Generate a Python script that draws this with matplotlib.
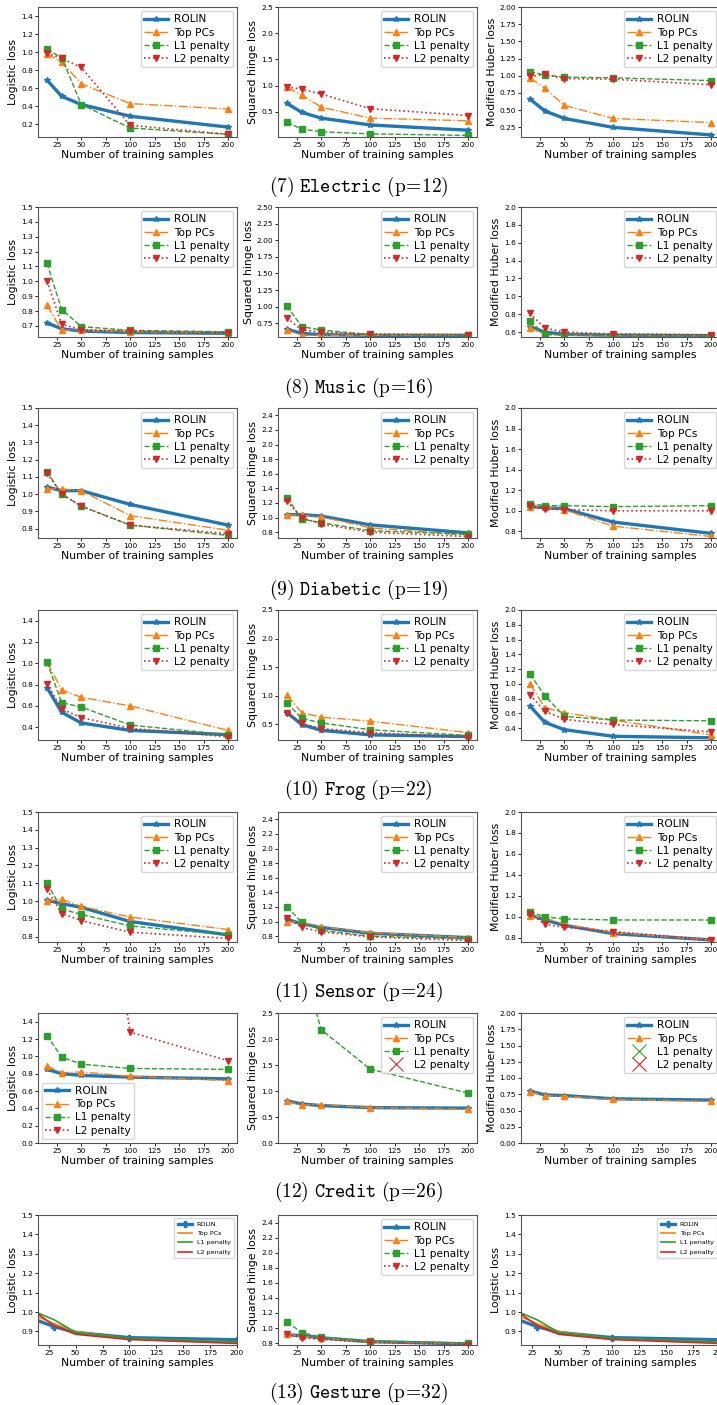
import numpy as np
import matplotlib
matplotlib.use("Agg")
import matplotlib.pyplot as plt

plt.rcParams['mathtext.fontset'] = 'cm'

# ---------------- data ----------------
x_samples = [15, 30, 50, 100, 200]
methods = ["ROLIN", "Top PCs", "L1 penalty", "L2 penalty"]
loss_labels = ["Logistic loss", "Squared hinge loss", "Modified Huber loss"]
xticks = [25, 50, 75, 100, 125, 150, 175, 200]

# Electric (p=12)
electric_logistic = {"ROLIN": [0.69, 0.51, 0.42, 0.29, 0.17],
                     "Top PCs": [0.98, 0.89, 0.65, 0.43, 0.37],
                     "L1 penalty": [1.03, 0.94, 0.42, 0.16, 0.09],
                     "L2 penalty": [0.99, 0.93, 0.83, 0.19, 0.09]}
electric_hinge = {"ROLIN": [0.66, 0.49, 0.38, 0.25, 0.15],
                  "Top PCs": [0.97, 0.82, 0.59, 0.38, 0.33],
                  "L1 penalty": [0.30, 0.17, 0.12, 0.08, 0.05],
                  "L2 penalty": [0.98, 0.93, 0.84, 0.56, 0.43]}
electric_huber = {"ROLIN": [0.66, 0.49, 0.38, 0.25, 0.14],
                  "Top PCs": [0.97, 0.82, 0.57, 0.38, 0.32],
                  "L1 penalty": [1.06, 1.01, 0.98, 0.97, 0.93],
                  "L2 penalty": [0.99, 1.02, 0.96, 0.95, 0.87]}

# Music (p=16)
music_logistic = {"ROLIN": [0.72, 0.68, 0.665, 0.655, 0.65],
                  "Top PCs": [0.84, 0.67, 0.67, 0.66, 0.655],
                  "L1 penalty": [1.12, 0.81, 0.695, 0.67, 0.66],
                  "L2 penalty": [1.00, 0.71, 0.675, 0.665, 0.655]}
music_hinge = {"ROLIN": [0.66, 0.60, 0.58, 0.57, 0.57],
               "Top PCs": [0.65, 0.57, 0.57, 0.57, 0.57],
               "L1 penalty": [1.01, 0.70, 0.65, 0.58, 0.575],
               "L2 penalty": [0.83, 0.65, 0.62, 0.59, 0.58]}
music_huber = {"ROLIN": [0.66, 0.60, 0.575, 0.565, 0.56],
               "Top PCs": [0.65, 0.57, 0.565, 0.56, 0.56],
               "L1 penalty": [0.72, 0.58, 0.565, 0.56, 0.56],
               "L2 penalty": [0.81, 0.645, 0.60, 0.58, 0.57]}

# Diabetic (p=19)
diabetic_logistic = {"ROLIN": [1.04, 1.02, 1.02, 0.94, 0.82],
                     "Top PCs": [1.03, 1.03, 1.02, 0.875, 0.79],
                     "L1 penalty": [1.13, 1.00, 0.93, 0.82, 0.76],
                     "L2 penalty": [1.12, 1.00, 0.93, 0.82, 0.77]}
diabetic_hinge = {"ROLIN": [1.04, 1.04, 1.02, 0.90, 0.79],
                  "Top PCs": [1.04, 1.03, 1.01, 0.86, 0.76],
                  "L1 penalty": [1.27, 0.98, 0.93, 0.82, 0.77],
                  "L2 penalty": [1.22, 1.00, 0.91, 0.80, 0.74]}
diabetic_huber = {"ROLIN": [1.04, 1.03, 1.02, 0.89, 0.78],
                  "Top PCs": [1.04, 1.04, 1.01, 0.85, 0.75],
                  "L1 penalty": [1.07, 1.05, 1.05, 1.04, 1.05],
                  "L2 penalty": [1.05, 1.02, 1.01, 1.00, 1.00]}

# Frog (p=22)
frog_logistic = {"ROLIN": [0.77, 0.54, 0.44, 0.37, 0.33],
                 "Top PCs": [1.01, 0.75, 0.68, 0.60, 0.37],
                 "L1 penalty": [1.01, 0.63, 0.59, 0.42, 0.33],
                 "L2 penalty": [0.81, 0.57, 0.49, 0.39, 0.31]}
frog_hinge = {"ROLIN": [0.70, 0.49, 0.39, 0.31, 0.28],
              "Top PCs": [1.01, 0.70, 0.62, 0.55, 0.35],
              "L1 penalty": [0.87, 0.60, 0.52, 0.40, 0.30],
              "L2 penalty": [0.70, 0.51, 0.42, 0.35, 0.27]}
frog_huber = {"ROLIN": [0.70, 0.48, 0.38, 0.29, 0.27],
              "Top PCs": [1.00, 0.68, 0.61, 0.51, 0.31],
              "L1 penalty": [1.13, 0.84, 0.56, 0.51, 0.50],
              "L2 penalty": [0.85, 0.63, 0.52, 0.45, 0.35]}

# Sensor (p=24)
sensor_logistic = {"ROLIN": [1.005, 0.985, 0.965, 0.885, 0.81],
                   "Top PCs": [1.00, 1.01, 0.97, 0.91, 0.84],
                   "L1 penalty": [1.10, 0.955, 0.925, 0.86, 0.81],
                   "L2 penalty": [1.065, 0.93, 0.89, 0.825, 0.79]}
sensor_hinge = {"ROLIN": [1.03, 0.97, 0.92, 0.84, 0.78],
                "Top PCs": [1.00, 0.99, 0.93, 0.85, 0.78],
                "L1 penalty": [1.20, 0.99, 0.88, 0.80, 0.76],
                "L2 penalty": [1.05, 0.92, 0.86, 0.79, 0.74]}
sensor_huber = {"ROLIN": [1.02, 0.97, 0.92, 0.84, 0.78],
                "Top PCs": [1.01, 0.99, 0.93, 0.85, 0.78],
                "L1 penalty": [1.05, 1.00, 0.98, 0.97, 0.97],
                "L2 penalty": [1.03, 0.93, 0.90, 0.86, 0.78]}

# Credit (p=26)  (nan = not reported)
nan = float("nan")
credit_logistic = {"ROLIN": [0.85, 0.80, 0.78, 0.76, 0.74],
                   "Top PCs": [0.89, 0.81, 0.82, 0.77, 0.72],
                   "L1 penalty": [1.24, 0.99, 0.91, 0.86, 0.85],
                   "L2 penalty": [8.0, 6.5, 4.95, 1.28, 0.95]}
credit_hinge = {"ROLIN": [0.81, 0.75, 0.72, 0.68, 0.67],
                "Top PCs": [0.80, 0.73, 0.74, 0.68, 0.65],
                "L1 penalty": [5.0, 3.46, 2.18, 1.42, 0.96],
                "L2 penalty": [nan, nan, nan, nan, nan]}
credit_huber = {"ROLIN": [0.80, 0.74, 0.73, 0.68, 0.66],
                "Top PCs": [0.79, 0.73, 0.72, 0.67, 0.64],
                "L1 penalty": [nan, nan, nan, nan, nan],
                "L2 penalty": [nan, nan, nan, nan, nan]}

# Gesture (p=32)
gesture_logistic = {"ROLIN": [0.955, 0.925, 0.895, 0.868, 0.857],
                    "Top PCs": [0.975, 0.94, 0.90, 0.862, 0.845],
                    "L1 penalty": [0.995, 0.96, 0.895, 0.865, 0.845],
                    "L2 penalty": [0.99, 0.93, 0.885, 0.858, 0.838]}
gesture_hinge = {"ROLIN": [0.91, 0.90, 0.87, 0.82, 0.79],
                 "Top PCs": [0.92, 0.89, 0.87, 0.82, 0.79],
                 "L1 penalty": [1.08, 0.94, 0.88, 0.83, 0.80],
                 "L2 penalty": [0.92, 0.87, 0.85, 0.81, 0.78]}

captions = [("7", "Electric", "12"), ("8", "Music", "16"), ("9", "Diabetic", "19"),
            ("10", "Frog", "22"), ("11", "Sensor", "24"), ("12", "Credit", "26"),
            ("13", "Gesture", "32")]

# ---------------- layout ----------------
W, H, DPI = 717, 1405, 100
fig = plt.figure(figsize=(W / DPI, H / DPI), dpi=DPI)

col_left = [38, 278, 521]
ax_w = 199
ax_h = 130
row_top = [7, 207, 408, 610, 812, 1013, 1215]
caption_y = [187, 388, 590, 790, 992, 1192, 1393]

def make_ax(r, c):
    l = col_left[c] / W
    b = 1 - (row_top[r] + ax_h) / H
    return fig.add_axes([l, b, ax_w / W, ax_h / H])

styles = {"ROLIN": dict(color="#1f77b4", ls="-", marker="*", lw=2.4, ms=4),
          "Top PCs": dict(color="#ff7f0e", ls="-.", marker="^", lw=1.0, ms=3.8),
          "L1 penalty": dict(color="#2ca02c", ls="--", marker="s", lw=1.0, ms=3.8),
          "L2 penalty": dict(color="#d62728", ls=":", marker="v", lw=1.2, ms=3.8)}

TICK_FS = 5.3
LABEL_FS = 7.8
LEG_FS = 7.6

def panel(ax, data, ylabel, ylim, yticks, legend_loc="upper right",
          missing=(), gesture=False):
    for m in methods:
        st = styles[m]
        if m in missing:
            ax.plot(x_samples, data[m], color=st["color"], ls="none", marker="x",
                    ms=10, mew=0.8, label=m)
        elif gesture and m != "ROLIN":
            ax.plot(x_samples, data[m], color=st["color"], ls="-", lw=1.2, label=m)
        elif gesture:
            ax.plot(x_samples, data[m], color=st["color"], ls="-", lw=2.4,
                    marker="P", ms=4, markevery=[1, 3, 4], label=m)
        else:
            ax.plot(x_samples, data[m], **st, label=m)
    ax.set_ylim(*ylim)
    ax.set_yticks(yticks)
    ax.set_xticks(xticks)
    if gesture:
        ax.set_xlim(15, 200)
    else:
        ax.set_xlim(5.75, 209.25)
    ax.tick_params(labelsize=TICK_FS, length=2.0, width=0.6, pad=1.5)
    ax.set_xlabel("Number of training samples", fontsize=LABEL_FS, labelpad=1.5)
    ax.set_ylabel(ylabel, fontsize=LABEL_FS, labelpad=2)
    for s in ax.spines.values():
        s.set_linewidth(0.8)
        s.set_color("#555555")
    if gesture:
        ax.legend(loc=legend_loc, fontsize=4.6, handlelength=2.2, borderpad=0.5,
                  labelspacing=0.6)
    else:
        ax.legend(loc=legend_loc, fontsize=LEG_FS, handlelength=2.2,
                  borderpad=0.3, labelspacing=0.3, handletextpad=0.6,
                  borderaxespad=0.4)

def fmt_ticks(ax, fmt):
    ax.set_yticklabels([fmt.format(v) for v in ax.get_yticks()])

t_log14 = [0.2, 0.4, 0.6, 0.8, 1.0, 1.2, 1.4]
t_sh05 = [0.5, 1.0, 1.5, 2.0, 2.5]
t_hub025 = [0.25, 0.5, 0.75, 1.0, 1.25, 1.5, 1.75, 2.0]

# Row 7 Electric
ax = make_ax(0, 0); panel(ax, electric_logistic, loss_labels[0], (0.06, 1.5), t_log14)
ax = make_ax(0, 1); panel(ax, electric_hinge, loss_labels[1], (0.02, 2.5), t_sh05)
ax = make_ax(0, 2); panel(ax, electric_huber, loss_labels[2], (0.11, 2.0), t_hub025); fmt_ticks(ax, "{:.2f}")

# Row 8 Music
ax = make_ax(1, 0); panel(ax, music_logistic, loss_labels[0], (0.625, 1.5), [0.7, 0.8, 0.9, 1.0, 1.1, 1.2, 1.3, 1.4, 1.5])
ax = make_ax(1, 1); panel(ax, music_hinge, loss_labels[1], (0.545, 2.5), [0.75, 1.0, 1.25, 1.5, 1.75, 2.0, 2.25, 2.5]); fmt_ticks(ax, "{:.2f}")
ax = make_ax(1, 2); panel(ax, music_huber, loss_labels[2], (0.545, 2.0), [0.6, 0.8, 1.0, 1.2, 1.4, 1.6, 1.8, 2.0])

# Row 9 Diabetic
ax = make_ax(2, 0); panel(ax, diabetic_logistic, loss_labels[0], (0.745, 1.5), [0.8, 0.9, 1.0, 1.1, 1.2, 1.3, 1.4, 1.5])
ax = make_ax(2, 1); panel(ax, diabetic_hinge, loss_labels[1], (0.72, 2.5), [0.8, 1.0, 1.2, 1.4, 1.6, 1.8, 2.0, 2.2, 2.4])
ax = make_ax(2, 2); panel(ax, diabetic_huber, loss_labels[2], (0.735, 2.0), [0.8, 1.0, 1.2, 1.4, 1.6, 1.8, 2.0])

# Row 10 Frog
ax = make_ax(3, 0); panel(ax, frog_logistic, loss_labels[0], (0.28, 1.5), [0.4, 0.6, 0.8, 1.0, 1.2, 1.4])
ax = make_ax(3, 1); panel(ax, frog_hinge, loss_labels[1], (0.22, 2.5), t_sh05)
ax = make_ax(3, 2); panel(ax, frog_huber, loss_labels[2], (0.24, 2.0), [0.4, 0.6, 0.8, 1.0, 1.2, 1.4, 1.6, 1.8, 2.0])

# Row 11 Sensor
ax = make_ax(4, 0); panel(ax, sensor_logistic, loss_labels[0], (0.77, 1.5), [0.8, 0.9, 1.0, 1.1, 1.2, 1.3, 1.4, 1.5])
ax = make_ax(4, 1); panel(ax, sensor_hinge, loss_labels[1], (0.72, 2.5), [0.8, 1.0, 1.2, 1.4, 1.6, 1.8, 2.0, 2.2, 2.4])
ax = make_ax(4, 2); panel(ax, sensor_huber, loss_labels[2], (0.76, 2.0), [0.8, 1.0, 1.2, 1.4, 1.6, 1.8, 2.0])

# Row 12 Credit
ax = make_ax(5, 0); panel(ax, credit_logistic, loss_labels[0], (0.0, 1.5), [0.0, 0.2, 0.4, 0.6, 0.8, 1.0, 1.2, 1.4], legend_loc="lower left")
ax = make_ax(5, 1); panel(ax, credit_hinge, loss_labels[1], (0.0, 2.5), [0.0, 0.5, 1.0, 1.5, 2.0, 2.5], missing=("L2 penalty",))
ax = make_ax(5, 2); panel(ax, credit_huber, loss_labels[2], (0.0, 2.0), [0.0] + t_hub025, missing=("L1 penalty", "L2 penalty")); fmt_ticks(ax, "{:.2f}")

# Row 13 Gesture
ax = make_ax(6, 0); panel(ax, gesture_logistic, loss_labels[0], (0.83, 1.5), [0.9, 1.0, 1.1, 1.2, 1.3, 1.4, 1.5], gesture=True)
ax = make_ax(6, 1); panel(ax, gesture_hinge, loss_labels[1], (0.775, 2.5), [0.8, 1.0, 1.2, 1.4, 1.6, 1.8, 2.0, 2.2, 2.4])
ax = make_ax(6, 2); panel(ax, gesture_logistic, loss_labels[0], (0.83, 1.5), [0.9, 1.0, 1.1, 1.2, 1.3, 1.4, 1.5], gesture=True)

# Captions
for (num, name, p), yc in zip(captions, caption_y):
    fig.text(0.5, 1 - yc / H,
             r"$\mathrm{(%s)}\ \mathtt{%s}\ \mathrm{(p}\!=\!\mathrm{%s)}$" % (num, name, p),
             ha="center", va="center", fontsize=14)

fig.savefig("out.png", dpi=DPI, facecolor="white")
